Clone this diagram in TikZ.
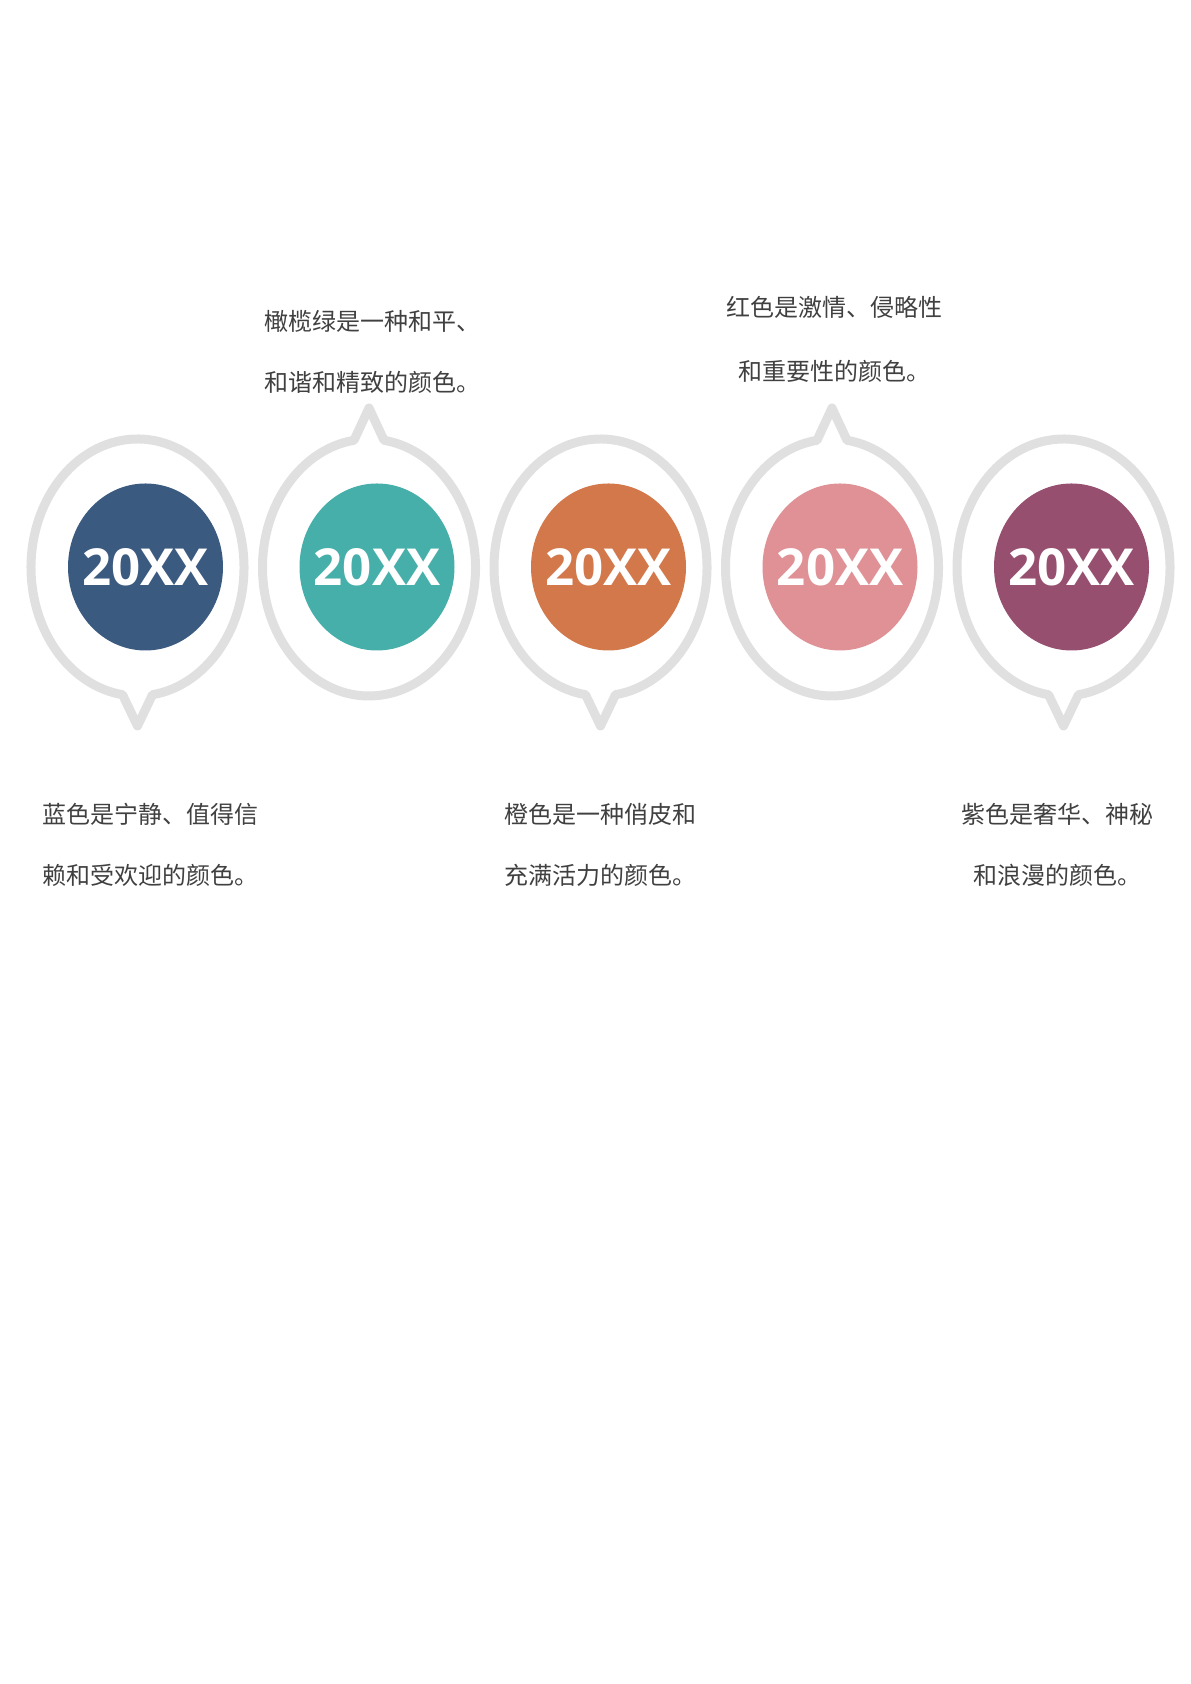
\documentclass[tikz,border=0pt]{standalone}
\usepackage{fontspec}
\newfontfamily\cjk{Noto Sans CJK SC}
\newfontfamily\yearfont{Open Sans}
\usetikzlibrary{calc}
\definecolor{ringgray}{HTML}{E0E0E0}
\definecolor{txtgray}{HTML}{404040}
\definecolor{cblue}{HTML}{3B5A80}
\definecolor{cteal}{HTML}{46AFAA}
\definecolor{corange}{HTML}{D2784B}
\definecolor{cpink}{HTML}{E09195}
\definecolor{cpurple}{HTML}{964F6F}
\tikzset{
  ring/.style={draw=ringgray, line width=9pt, line join=round, fill=white},
  yeartxt/.style={text=white, font=\yearfont\bfseries\fontsize{51}{51}\selectfont, inner sep=0pt},
  desc/.style={text=txtgray, font=\cjk\fontsize{24}{24}\selectfont, inner sep=0pt},
}
\begin{document}
\begin{tikzpicture}[x=1pt,y=1pt]
\useasboundingbox (0,0) rectangle (1191,1684);
% bubble centres (y = 1684-567.5)
\coordinate (c1) at (137.5,1116.5);
\coordinate (c2) at (369,1116.5);
\coordinate (c3) at (600.5,1116.5);
\coordinate (c4) at (832,1116.5);
\coordinate (c5) at (1063.5,1116.5);
% tail tips
\coordinate (p1) at ($(c1)+(0,-158.5)$);
\coordinate (p2) at ($(c2)+(0,159.5)$);
\coordinate (p3) at ($(c3)+(0,-158.5)$);
\coordinate (p4) at ($(c4)+(0,159.5)$);
\coordinate (p5) at ($(c5)+(0,-158.5)$);
% bubbles with tail down
\foreach \i in {1,3,5}{
  \draw[ring] (c\i) ++(-81.9:106.5 and 128.5)
    arc[start angle=-81.9, end angle=261.9, x radius=106.5, y radius=128.5]
    -- (p\i) -- cycle;
}
% bubbles with tail up
\foreach \i in {2,4}{
  \draw[ring] (c\i) ++(98.1:106.5 and 128.5)
    arc[start angle=98.1, end angle=441.9, x radius=106.5, y radius=128.5]
    -- (p\i) -- cycle;
}
% coloured discs
\fill[cblue]   ($(c1)+(8,0.5)$) ellipse [x radius=77.5, y radius=83.5];
\fill[cteal]   ($(c2)+(8,0.5)$) ellipse [x radius=77.5, y radius=83.5];
\fill[corange] ($(c3)+(8,0.5)$) ellipse [x radius=77.5, y radius=83.5];
\fill[cpink]   ($(c4)+(8,0.5)$) ellipse [x radius=77.5, y radius=83.5];
\fill[cpurple] ($(c5)+(8,0.5)$) ellipse [x radius=77.5, y radius=83.5];
\node[yeartxt] (y1) at ($(c1)+(8,0)$) {20XX};
\node[yeartxt] (y2) at ($(c2)+(8,0)$) {20XX};
\node[yeartxt] (y3) at ($(c3)+(8,0)$) {20XX};
\node[yeartxt] (y4) at ($(c4)+(8,0)$) {20XX};
\node[yeartxt] (y5) at ($(c5)+(8,0)$) {20XX};
% descriptions
\node[desc, anchor=base west] (d1a) at (42,860) {蓝色是宁静、值得信};
\node[desc, anchor=base west] (d1b) at (42,799) {赖和受欢迎的颜色。};
\node[desc, anchor=base west] (d2a) at (264,1353) {橄榄绿是一种和平、};
\node[desc, anchor=base west] (d2b) at (264,1292) {和谐和精致的颜色。};
\node[desc, anchor=base west] (d3a) at (504,860) {橙色是一种俏皮和};
\node[desc, anchor=base west] (d3b) at (504,799) {充满活力的颜色。};
\node[desc, anchor=base] (d4a) at (834.5,1367) {红色是激情、侵略性};
\node[desc, anchor=base] (d4b) at (834.5,1303) {和重要性的颜色。};
\node[desc, anchor=base] (d5a) at (1057,860) {紫色是奢华、神秘};
\node[desc, anchor=base] (d5b) at (1057,799) {和浪漫的颜色。};
\end{tikzpicture}
\end{document}
